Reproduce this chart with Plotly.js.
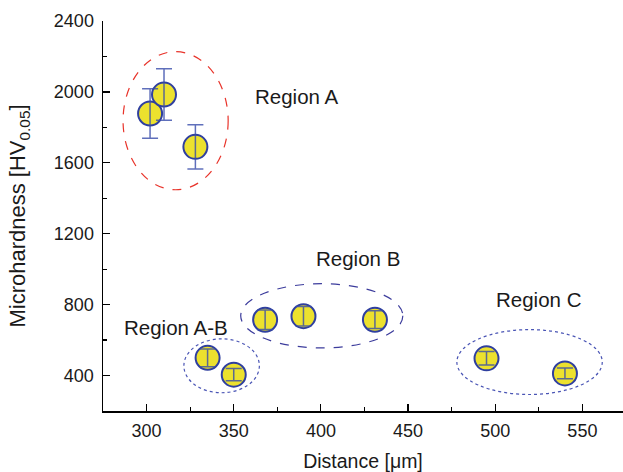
<!DOCTYPE html>
<html><head><meta charset="utf-8">
<script src="https://cdn.plot.ly/plotly-3.0.1.min.js"></script>
<style>html,body{margin:0;padding:0;background:#fff;}#chart{width:623px;height:472px;}</style>
</head><body><div id="chart"></div>
<script>
const distance = [302, 310, 328, 335, 350, 368, 390, 431, 495, 540];
const hardness = [1878, 1985, 1690, 500, 405, 715, 735, 715, 497, 412];
const errors   = [140, 145, 125, 50, 35, 55, 55, 50, 38, 30];
const regionNames = ["Region A", "Region B", "Region A-B", "Region C"];
const regionLabelX = [386, 421, 317, 525];
const regionLabelY = [1975, 1060, 670, 830];

const markerTrace = {
  x: distance, y: hardness, type: 'scatter', mode: 'markers',
  marker: {size: 24, color: '#ece12e', line: {color: '#2f3f9f', width: 2}},
  hoverinfo: 'x+y', showlegend: false
};
const errTrace = {
  x: distance, y: hardness, type: 'scatter', mode: 'markers',
  marker: {size: 1, opacity: 0},
  error_y: {type: 'data', array: errors, visible: true, color: 'rgba(55,75,170,0.8)', thickness: 1.5, width: 8},
  hoverinfo: 'skip', showlegend: false
};

const shapes = [
  {type: 'circle', xref: 'x', yref: 'y', x0: 286.5, x1: 346.8, y0: 1448, y1: 2227, line: {color: '#e8332a', width: 1.2, dash: 'dash'}},
  {type: 'circle', xref: 'x', yref: 'y', x0: 354, x1: 447, y0: 556, y1: 918, line: {color: '#3c3c9c', width: 1.2, dash: 'dash'}},
  {type: 'circle', xref: 'x', yref: 'y', x0: 321.4, x1: 364.7, y0: 303, y1: 607, line: {color: '#4a55b5', width: 1.2, dash: 'dot'}},
  {type: 'circle', xref: 'x', yref: 'y', x0: 478, x1: 561.4, y0: 293, y1: 659, line: {color: '#4a55b5', width: 1.2, dash: 'dot'}}
];

const annotations = regionNames.map((t, i) => ({
  x: regionLabelX[i], y: regionLabelY[i], xref: 'x', yref: 'y', text: t, showarrow: false,
  font: {family: 'Liberation Sans, Arial, sans-serif', size: 20.5, color: '#1a1a1a'}
}));

const layout = {
  width: 623, height: 472,
  margin: {l: 103, r: 0, t: 21, b: 61},
  paper_bgcolor: '#fff', plot_bgcolor: '#fff',
  font: {family: 'Liberation Sans, Arial, sans-serif', color: '#1a1a1a'},
  showlegend: false,
  xaxis: {
    range: [275, 573.3], tick0: 300, dtick: 50, ticks: 'inside', ticklen: 7, tickwidth: 1.2, tickcolor: '#000',
    showline: true, linecolor: '#000', linewidth: 1.5, showgrid: false, zeroline: false, automargin: false,
    tickfont: {size: 18}, ticklabelstandoff: 3,
    minor: {dtick: 25, ticks: 'inside', ticklen: 4, tickcolor: '#000', showgrid: false},
    title: {text: 'Distance [μm]', font: {size: 19.5}, standoff: 14}
  },
  yaxis: {
    range: [200, 2400], tick0: 0, dtick: 400, ticks: 'inside', ticklen: 7, tickwidth: 1.2, tickcolor: '#000',
    showline: true, linecolor: '#000', linewidth: 1.5, showgrid: false, zeroline: false, automargin: false,
    tickfont: {size: 18}, ticklabelstandoff: 4,
    minor: {dtick: 200, tick0: 0, ticks: 'inside', ticklen: 4, tickcolor: '#000', showgrid: false},
    title: {text: 'Microhardness [HV<sub>0.05</sub>]', font: {size: 22}, standoff: 22}
  },
  shapes: shapes,
  annotations: annotations
};

Plotly.newPlot('chart', [markerTrace, errTrace], layout, {displayModeBar: false, staticPlot: true});
</script>
</body></html>
